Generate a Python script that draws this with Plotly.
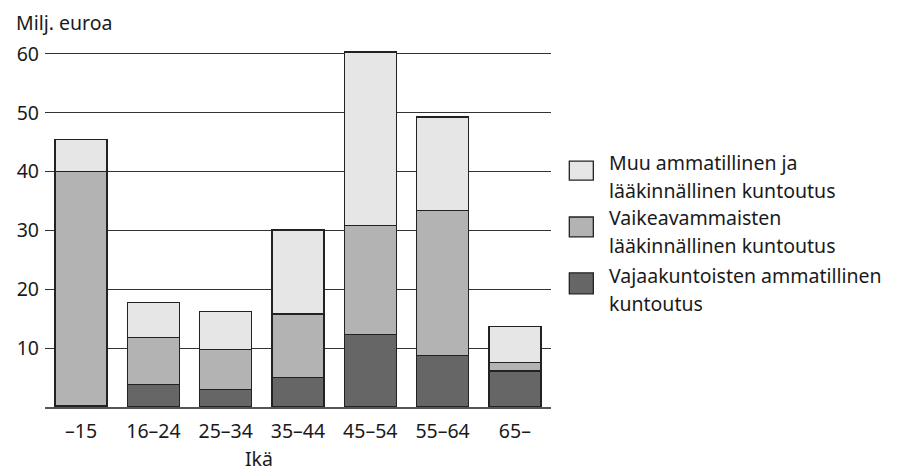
import plotly.graph_objects as go

categories = ["–15", "16–24", "25–34", "35–44", "45–54", "55–64", "65–"]
vajaakuntoisten = [0.3, 3.8, 3.0, 5.0, 12.3, 8.8, 6.1]
vaikeavammaisten = [39.7, 8.0, 6.8, 10.8, 18.5, 24.6, 1.5]
muu = [5.5, 6.0, 6.4, 14.3, 29.5, 15.9, 6.1]
series_names = [
    ["Muu ammatillinen ja", "lääkinnällinen kuntoutus"],
    ["Vaikeavammaisten", "lääkinnällinen kuntoutus"],
    ["Vajaakuntoisten ammatillinen", "kuntoutus"],
]
y_ticks = [10, 20, 30, 40, 50, 60]

W, H = 901, 474
L, R, T, B = 45, 350.3, 47.6, 66.5
PW, PH = W - L - R, H - T - B
FONT = "Noto Sans"
FS = 19.5
TXT = "#1a1a1a"
EDGE = "#222222"
colors = ["#e6e6e6", "#b3b3b3", "#666666"]

def px(x):
    return (x - L) / PW

def py(y):
    return (H - B - y) / PH

fig = go.Figure()
for vals, col in [(vajaakuntoisten, colors[2]), (vaikeavammaisten, colors[1]), (muu, colors[0])]:
    fig.add_trace(go.Bar(x=categories, y=vals, marker=dict(color=col, line=dict(color=EDGE, width=1.4)),
                         showlegend=False, hoverinfo="skip"))

shapes = []
annotations = []
box_y = [(161, 180), (217, 237), (273, 294)]
line_y = [(162, 190), (218, 246), (276, 304)]
for i in range(3):
    y0, y1 = box_y[i]
    shapes.append(dict(type="rect", xref="paper", yref="paper", x0=px(569), x1=px(593),
                       y0=py(y1), y1=py(y0), fillcolor=colors[i], line=dict(color=EDGE, width=1.3)))
    for j, t in enumerate(series_names[i]):
        annotations.append(dict(text=t, xref="paper", yref="paper", x=px(607), y=py(line_y[i][j]),
                                xanchor="left", yanchor="middle", showarrow=False,
                                font=dict(family=FONT, size=FS, color=TXT)))

annotations.append(dict(text="Milj. euroa", xref="paper", yref="paper", x=px(14), y=py(22),
                        xanchor="left", yanchor="middle", showarrow=False,
                        font=dict(family=FONT, size=FS, color=TXT)))
annotations.append(dict(text="Ikä", xref="paper", yref="paper", x=px(259), y=py(473.5),
                        xanchor="center", yanchor="bottom", showarrow=False, borderpad=0,
                        font=dict(family=FONT, size=FS, color=TXT)))

fig.update_layout(
    width=W, height=H,
    margin=dict(l=L, r=R, t=T, b=B, pad=0),
    barmode="stack", bargap=0.28,
    plot_bgcolor="white", paper_bgcolor="white",
    font=dict(family=FONT, size=FS, color=TXT),
    shapes=shapes, annotations=annotations,
    xaxis=dict(range=[-0.5, 6.5], showgrid=False, showline=True, linecolor="#555555", linewidth=2,
               ticks="", ticklabelstandoff=6, tickfont=dict(family=FONT, size=FS, color=TXT)),
    yaxis=dict(range=[0, 61], tickvals=y_ticks, showgrid=True, gridcolor="#333333", gridwidth=1.3,
               zeroline=False, showline=False, ticks="", ticklabelstandoff=5,
               tickfont=dict(family=FONT, size=FS, color=TXT)),
)

fig.write_html("out.html", config={"displayModeBar": False},
               post_script="document.body.style.margin='0';document.body.style.overflow='hidden';")
